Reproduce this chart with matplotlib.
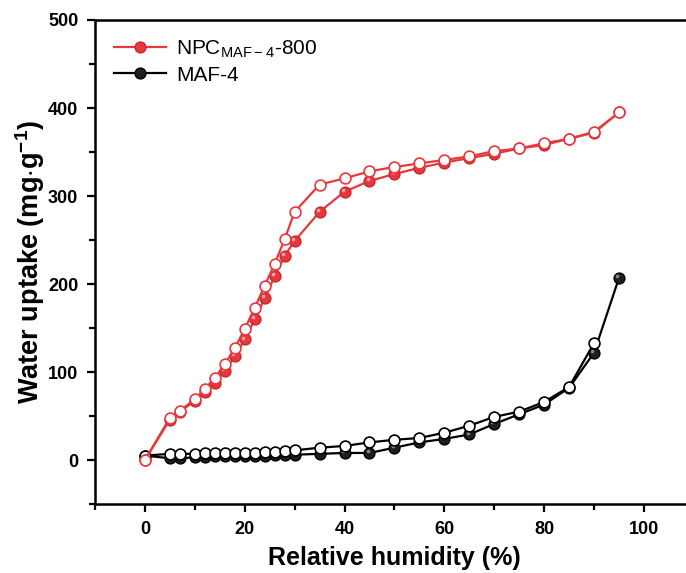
import matplotlib
matplotlib.use('Agg')
import matplotlib.pyplot as plt
from matplotlib.ticker import MultipleLocator
from matplotlib.transforms import offset_copy

plt.rcParams['font.family'] = ['Liberation Sans', 'DejaVu Sans']
plt.rcParams['mathtext.fontset'] = 'custom'
plt.rcParams['mathtext.rm'] = 'Liberation Sans'
plt.rcParams['mathtext.bf'] = 'Liberation Sans:bold'

# NPC(MAF-4)-800 adsorption (filled) / desorption (open)
rh_npc_ads = [0, 5, 7, 10, 12, 14, 16, 18, 20, 22, 24, 26, 28, 30, 35, 40, 45, 50, 55, 60, 65, 70, 75, 80, 85, 90, 95]
npc_ads = [0, 46, 55, 67, 77, 88, 101, 118, 137, 160, 184, 209, 232, 249, 282, 305, 317, 325, 332, 338, 343, 348, 354, 358, 365, 372, 395]
rh_npc_des = [0, 5, 7, 10, 12, 14, 16, 18, 20, 22, 24, 26, 28, 30, 35, 40, 45, 50, 55, 60, 65, 70, 75, 80, 85, 90, 95]
npc_des = [0, 48, 56, 69, 81, 93, 109, 127, 149, 173, 198, 223, 251, 282, 313, 320, 328, 333, 337, 341, 345, 351, 354, 360, 365, 373, 395]

# MAF-4 adsorption / desorption
rh_maf_ads = [0, 5, 7, 10, 12, 14, 16, 18, 20, 22, 24, 26, 28, 30, 35, 40, 45, 50, 55, 60, 65, 70, 75, 80, 85, 90, 95]
maf_ads = [5, 2, 2, 3, 3, 4, 4, 4, 5, 5, 5, 6, 6, 6, 7, 8, 8, 14, 20, 24, 29, 41, 52, 63, 82, 122, 207]
rh_maf_des = [0, 5, 7, 10, 12, 14, 16, 18, 20, 22, 24, 26, 28, 30, 35, 40, 45, 50, 55, 60, 65, 70, 75, 80, 85, 90]
maf_des = [5, 7, 7, 7, 8, 8, 8, 8, 8, 8, 9, 9, 10, 11, 14, 16, 20, 23, 25, 31, 39, 49, 55, 66, 83, 133]

red = '#e8383d'

fig = plt.figure(figsize=(6.86, 5.73), dpi=100)
ax = fig.add_axes([0.1385, 0.1204, 0.873, 0.8447])

ms = 7.8
# shiny spot on the filled balls
shine = offset_copy(ax.transData, fig=fig, x=-1.3, y=1.3, units='points')

ax.plot(rh_maf_ads, maf_ads, '-o', color='black', lw=1.6, ms=ms,
        mfc='#1e1e1e', mec='black', mew=1.0, label='MAF-4', zorder=3)
ax.plot(rh_maf_ads, maf_ads, 'o', ms=2.6, mfc='#8a8a8a', mec='none',
        transform=shine, zorder=3.5)
ax.plot(rh_maf_des, maf_des, '-o', color='black', lw=1.6, ms=ms,
        mfc='white', mec='black', mew=1.2, zorder=4)
ax.plot(rh_npc_ads, npc_ads, '-o', color=red, lw=1.6, ms=ms,
        mfc=red, mec='#c42a2f', mew=1.0, label='NPC$_{\\mathrm{MAF-4}}$-800', zorder=5)
ax.plot(rh_npc_ads, npc_ads, 'o', ms=2.6, mfc='#f6a3a5', mec='none',
        transform=shine, zorder=5.5)
ax.plot(rh_npc_des, npc_des, '-o', color=red, lw=1.6, ms=ms,
        mfc='white', mec=red, mew=1.2, zorder=6)

ax.set_xlim(-10, 110)
ax.set_ylim(-50, 500)
ax.xaxis.set_major_locator(MultipleLocator(20))
ax.xaxis.set_minor_locator(MultipleLocator(10))
ax.yaxis.set_major_locator(MultipleLocator(100))
ax.yaxis.set_minor_locator(MultipleLocator(50))
ax.tick_params(which='major', direction='out', length=6, width=1.6, labelsize=13)
ax.tick_params(axis='y', which='major', pad=6)
ax.tick_params(axis='x', which='major', pad=6)
ax.tick_params(which='minor', direction='out', length=4, width=1.6)
for lab in ax.get_xticklabels() + ax.get_yticklabels():
    lab.set_fontweight('bold')
for s in ax.spines.values():
    s.set_linewidth(1.8)

ax.set_xlabel('Relative humidity (%)', fontsize=18, fontweight='bold', labelpad=6)
ax.set_ylabel('Water uptake (mg$\\mathbf{\\cdot}$g$^{\\mathbf{-1}}$)', fontsize=19.5,
              fontweight='bold', labelpad=1)

h, l = ax.get_legend_handles_labels()
ax.legend(h[::-1], l[::-1], loc='upper left', frameon=False, fontsize=15,
          handlelength=2.5, handletextpad=0.5, borderaxespad=0.5, labelspacing=0.25)

fig.savefig('out.png', dpi=100)
